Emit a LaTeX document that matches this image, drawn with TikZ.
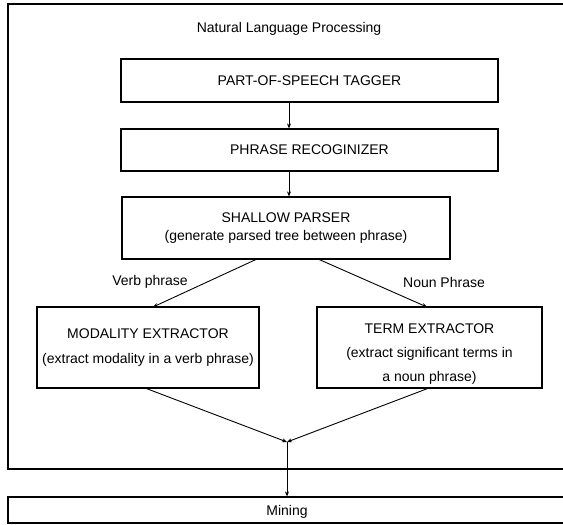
\documentclass[tikz,border=0pt]{standalone}
\usepackage{fontspec}
\setmainfont{Liberation Sans}
\usetikzlibrary{arrows.meta}
\tikzset{
  box/.style={draw, line width=1.2pt, inner sep=0pt, align=center},
  conn/.style={line width=0.9pt, -{Stealth[length=5pt,width=4pt]}},
  lbl/.style={inner sep=0pt, align=center, font=\fontsize{14}{17}\selectfont}
}
\begin{document}
\begin{tikzpicture}[x=1pt,y=-1pt,font=\fontsize{14}{17}\selectfont]
\useasboundingbox (0,0) rectangle (563,525);
\clip (0,0) rectangle (563,525);
% outer frames
\node[box, minimum width=612pt, minimum height=465pt] (nlp) at (314,236.5) {};
\node[box, minimum width=612pt, minimum height=26pt] (mining) at (314,510) {};
\node[lbl] (miningtxt) at (287,512) {Mining};
\node[lbl] (title) at (289,29) {Natural Language Processing};
% boxes
\node[box, minimum width=377pt, minimum height=43pt] (pos) at (309.5,80.5) {PART-OF-SPEECH TAGGER};
\node[box, minimum width=377pt, minimum height=42pt] (phr) at (309.5,150) {PHRASE RECOGINIZER};
\node[box, minimum width=328pt, minimum height=62pt, font=\fontsize{14}{18}\selectfont] (sp) at (286,228)
  {SHALLOW PARSER\\(generate parsed tree between phrase)};
\node[box, minimum width=222pt, minimum height=81pt, font=\fontsize{14}{25}\selectfont] (mod) at (148,347.5)
  {MODALITY EXTRACTOR\\(extract modality in a verb phrase)};
\node[box, minimum width=225pt, minimum height=81pt] (term) at (429.5,347.5) {};
\node[lbl, font=\fontsize{14}{24}\selectfont] (termtxt) at (429.5,354)
  {TERM EXTRACTOR\\(extract significant terms in\\a noun phrase)};
% connectors
\draw[conn] (title |- pos.south) -- (title |- phr.north);
\draw[conn] (title |- phr.south) -- (title |- sp.north);
\coordinate (spl) at (257,259);
\coordinate (spr) at (318,259);
\coordinate (modt) at (153,307);
\coordinate (termt) at (427,307);
\draw[conn] (spl) -- (modt);
\draw[conn] (spr) -- (termt);
\node[lbl] (vp) at (150,282) {Verb phrase};
\node[lbl] (np) at (444,282) {Noun Phrase};
\coordinate (modb) at (145,388);
\coordinate (termb) at (429,388);
\coordinate (j) at (287,442);
\draw[conn] (modb) -- (j);
\draw[conn] (termb) -- (j);
\draw[conn] (j) -- (j |- mining.north);
\end{tikzpicture}
\end{document}
